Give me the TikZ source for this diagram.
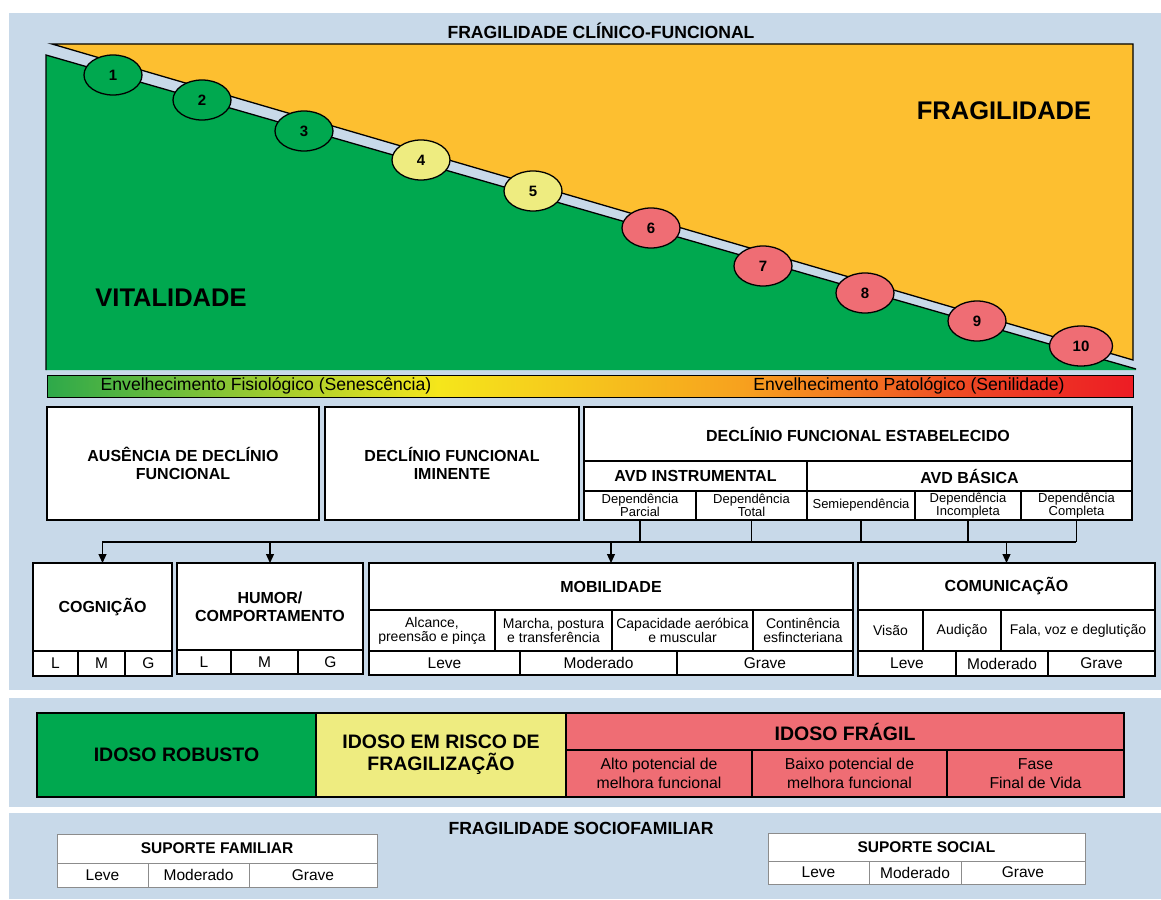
\documentclass[tikz,border=0pt]{standalone}
\usepackage{fontspec}
\setmainfont{Liberation Sans}
\usetikzlibrary{shapes.geometric,arrows.meta}
\definecolor{bgb}{HTML}{C8D9E9}
\definecolor{orF}{HTML}{FDBF30}
\definecolor{grF}{HTML}{00A84F}
\definecolor{yeF}{HTML}{EEEC80}
\definecolor{reF}{HTML}{EF6D74}
\definecolor{gr1}{HTML}{2DA94A}
\definecolor{ye1}{HTML}{F5E61B}
\definecolor{or1}{HTML}{F7A11E}
\definecolor{re1}{HTML}{EE4324}
\definecolor{re2}{HTML}{ED1C24}
\pgfdeclarehorizontalshading{envshade}{100bp}{color(0bp)=(gr1); color(25bp)=(gr1); color(43bp)=(ye1); color(57bp)=(or1); color(68bp)=(re1); color(75bp)=(re2); color(100bp)=(re2)}
% [style] name x1 y1 x2 y2 text
\newcommand\cellbox[7][]{%
  \pgfmathsetmacro\cbw{#5-#3}%
  \pgfmathsetmacro\cbh{#6-#4}%
  \node[cellst,#1,minimum width=\cbw pt,minimum height=\cbh pt] (#2) at ({(#3+#5)/2},{(#4+#6)/2}) {#7};%
}
\begin{document}
\begin{tikzpicture}[x=1pt,y=-1pt,
  cellst/.style={draw, fill=white, line width=1.3pt, inner sep=0pt, outer sep=0pt, align=center, text=black},
  hb/.style={font=\fontsize{16}{18}\selectfont\bfseries},
  smf/.style={font=\fontsize{13}{11.5}\selectfont},
  mdf/.style={font=\fontsize{14}{14}\selectfont},
  lvf/.style={font=\fontsize{15.5}{16}\selectfont},
  bigf/.style={font=\fontsize{19.5}{22}\selectfont\bfseries},
  fsub/.style={font=\fontsize{15.8}{19.5}\selectfont},
  soc/.style={draw=black!45, line width=0.8pt},
  fr/.style={fill=reF, line width=2.8pt},
  ell/.style={ellipse, draw, line width=1.3pt, minimum width=58pt, minimum height=40pt, inner sep=0pt, font=\fontsize{15}{15}\selectfont\bfseries},
  arr/.style={line width=1.2pt, -{Triangle[length=9pt,width=8pt]}},
  conn/.style={line width=1.2pt}
]
\useasboundingbox (0,0) rectangle (1161,899);
\fill[white] (0,0) rectangle (1161,899);
% panels
\fill[bgb] (9,13) rectangle (1161,690);
\fill[bgb] (9,698) rectangle (1161,807);
\fill[bgb] (9,813) rectangle (1161,899);

\node[font=\fontsize{17.6}{20}\selectfont\bfseries] (title1) at (601,31) {FRAGILIDADE CLÍNICO-FUNCIONAL};

% fragility / vitality areas
\draw[fill=orF, line width=1.3pt, line join=miter] (52,44) -- (1133,44) -- (1133,360) -- cycle;
\fill[grF] (46,55) -- (1136,369) -- (1136,370) -- (46,370) -- cycle;
\draw[line width=1.3pt] (46,370) -- (46,55) -- (1136,369);

\node[font=\fontsize{25.5}{28}\selectfont\bfseries] (fragil) at (1004,111) {FRAGILIDADE};
\node[font=\fontsize{25.5}{28}\selectfont\bfseries] (vital) at (171,298) {VITALIDADE};

\node[ell, fill=grF] (e1) at (113,75) {1};
\node[ell, fill=grF] (e2) at (202,100) {2};
\node[ell, fill=grF] (e3) at (304,131) {3};
\node[ell, fill=yeF] (e4) at (421,160) {4};
\node[ell, fill=yeF] (e5) at (533,191) {5};
\node[ell, fill=reF] (e6) at (651,228) {6};
\node[ell, fill=reF] (e7) at (763,266) {7};
\node[ell, fill=reF] (e8) at (865,293) {8};
\node[ell, fill=reF] (e9) at (977,321) {9};
\node[ell, fill=reF, minimum width=63pt] (e10) at (1081,346) {10};

% gradient bar
\shade[shading=envshade] (47,375) rectangle (1133,397);
\draw[line width=0.8pt] (47,375) rectangle (1133,397);
\node[font=\fontsize{17.6}{20}\selectfont] (fisio) at (266,386) {Envelhecimento Fisiológico (Senescência)};
\node[font=\fontsize{17.6}{20}\selectfont] (pato) at (909,386) {Envelhecimento Patológico (Senilidade)};

% decline boxes
\cellbox[hb]{ausen}{47}{407}{319}{520}{AUSÊNCIA DE DECLÍNIO\\FUNCIONAL}
\cellbox[hb]{imin}{325}{407}{579}{520}{DECLÍNIO FUNCIONAL\\IMINENTE}
\cellbox[hb]{estab}{584}{407}{1132}{461}{DECLÍNIO FUNCIONAL ESTABELECIDO}
\cellbox[hb]{avdi}{584}{461}{807}{491}{AVD INSTRUMENTAL}
\cellbox[hb]{avdb}{807}{461}{1132}{491}{AVD BÁSICA}
\cellbox[smf]{dp}{584}{491}{696}{520}{Dependência\\Parcial}
\cellbox[smf]{dt}{696}{491}{807}{520}{Dependência\\Total}
\cellbox[smf]{se}{807}{491}{915}{520}{Semiependência}
\cellbox[smf]{di}{915}{491}{1021}{520}{Dependência\\Incompleta}
\cellbox[smf]{dc}{1021}{491}{1132}{520}{Dependência\\Completa}

% domain boxes
\cellbox[hb]{cog}{33}{563}{172}{651}{COGNIÇÃO}
\cellbox[lvf]{cogL}{33}{651}{78}{676}{L}
\cellbox[lvf]{cogM}{78}{651}{125}{676}{M}
\cellbox[lvf]{cogG}{125}{651}{172}{676}{G}

\cellbox[hb]{hum}{177}{563}{363}{650}{HUMOR/\\COMPORTAMENTO}
\cellbox[lvf]{humL}{177}{650}{231}{674}{L}
\cellbox[lvf]{humM}{231}{650}{298}{674}{M}
\cellbox[lvf]{humG}{298}{650}{363}{674}{G}

\cellbox[hb]{mob}{369}{563}{853}{610}{MOBILIDADE}
\cellbox[mdf]{mob1}{369}{610}{495}{651}{Alcance,\\preensão e pinça}
\cellbox[mdf]{mob2}{495}{610}{612}{651}{Marcha, postura\\e transferência}
\cellbox[mdf]{mob3}{612}{610}{753}{651}{Capacidade aeróbica\\e muscular}
\cellbox[mdf]{mob4}{753}{610}{853}{651}{Continência\\esfincteriana}
\cellbox[lvf]{mobL}{369}{651}{520}{675}{Leve}
\cellbox[lvf]{mobM}{520}{651}{677}{675}{Moderado}
\cellbox[lvf]{mobG}{677}{651}{853}{675}{Grave}

\cellbox[hb]{com}{858}{563}{1155}{610}{COMUNICAÇÃO}
\cellbox[mdf]{com1}{858}{610}{923}{651}{Visão}
\cellbox[mdf]{com2}{923}{610}{1001}{651}{Audição}
\cellbox[mdf]{com3}{1001}{610}{1155}{651}{Fala, voz e deglutição}
\cellbox[lvf]{comL}{858}{651}{956}{676}{Leve}
\cellbox[lvf]{comM}{956}{651}{1048}{676}{Moderado}
\cellbox[lvf]{comG}{1048}{651}{1155}{676}{Grave}

% connectors
\coordinate (busL) at (102,542);
\coordinate (busR) at (1076,542);
\foreach \c in {dp,dt,se,di,dc} {
  \draw[conn] (\c.south) -- (\c.south |- busR);
}
\draw[conn] (busL) -- (busR);
\foreach \c in {cog,hum,mob,com} {
  \draw[arr] (\c.north |- busL) -- (\c.north);
}

% categories
\cellbox[bigf, fill=grF, line width=1.6pt]{robusto}{37}{713}{316}{797}{IDOSO ROBUSTO}
\cellbox[bigf, fill=yeF, line width=1.6pt]{risco}{316}{713}{566}{797}{IDOSO EM RISCO DE\\FRAGILIZAÇÃO}
\cellbox[bigf, fr]{fragilh}{566}{713}{1124}{750}{IDOSO FRÁGIL}
\cellbox[fsub, fr]{alto}{566}{750}{752}{797}{Alto potencial de\\melhora funcional}
\cellbox[fsub, fr]{baixo}{752}{750}{947}{797}{Baixo potencial de\\melhora funcional}
\cellbox[fsub, fr]{fase}{947}{750}{1124}{797}{Fase\\Final de Vida}

% sociofamiliar
\node[font=\fontsize{17.6}{20}\selectfont\bfseries] (title2) at (581,828) {FRAGILIDADE SOCIOFAMILIAR};
\cellbox[soc, font=\fontsize{15.5}{17}\selectfont\bfseries]{supf}{57}{834}{377}{863}{SUPORTE FAMILIAR}
\cellbox[lvf, soc]{supfL}{57}{863}{148}{887}{Leve}
\cellbox[lvf, soc]{supfM}{148}{863}{249}{887}{Moderado}
\cellbox[lvf, soc]{supfG}{249}{863}{377}{887}{Grave}
\cellbox[soc, font=\fontsize{15.5}{17}\selectfont\bfseries]{sups}{768}{833}{1085}{861}{SUPORTE SOCIAL}
\cellbox[lvf, soc]{supsL}{768}{861}{869}{884}{Leve}
\cellbox[lvf, soc]{supsM}{869}{861}{961}{884}{Moderado}
\cellbox[lvf, soc]{supsG}{961}{861}{1085}{884}{Grave}
\end{tikzpicture}
\end{document}
